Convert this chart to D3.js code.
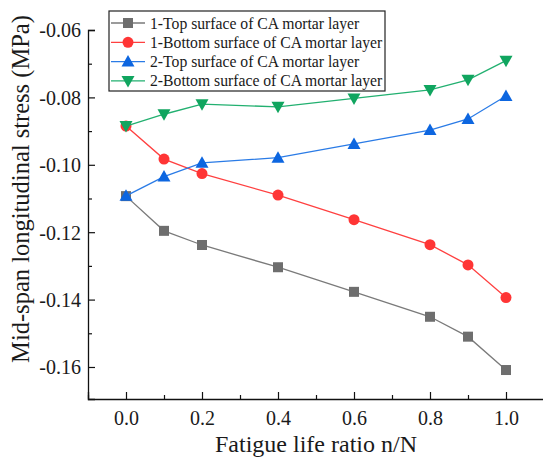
<!DOCTYPE html>
<html>
<head>
<meta charset="utf-8">
<script src="https://cdn.jsdelivr.net/npm/d3@7"></script>
<style>
  body { margin: 0; background: #fff; }
</style>
</head>
<body>
<div id="chart"></div>
<script>
// data
var ratio = [0, 0.1, 0.2, 0.4, 0.6, 0.8, 0.9, 1.0];
var top1 = [-0.1093, -0.1196, -0.1238, -0.1304, -0.1377, -0.1451, -0.1510, -0.1609];
var bottom1 = [-0.0885, -0.0983, -0.1026, -0.1090, -0.1163, -0.1237, -0.1297, -0.1394];
var top2 = [-0.1092, -0.1035, -0.0994, -0.0979, -0.0938, -0.0897, -0.0864, -0.0796];
var bottom2 = [-0.0885, -0.0850, -0.0820, -0.0828, -0.0803, -0.0778, -0.0748, -0.0691];
var seriesNames = [
  "1-Top surface of CA mortar layer",
  "1-Bottom surface of CA mortar layer",
  "2-Top surface of CA mortar layer",
  "2-Bottom surface of CA mortar layer"
];
var xTicks = [0, 0.2, 0.4, 0.6, 0.8, 1.0];
var yTicks = [-0.16, -0.14, -0.12, -0.10, -0.08, -0.06];

var FONT = "'Liberation Serif', 'Times New Roman', serif";
var svgWidth = 543;
var svgHeight = 461;
var margin = { top: 30, right: 0, bottom: 62, left: 88 };
var height = svgHeight - margin.top - margin.bottom;

var svg = d3.select("#chart")
  .append("svg")
  .attr("width", svgWidth)
  .attr("height", svgHeight)
  .style("font-family", FONT);

var chartGroup = svg.append("g")
  .attr("transform", `translate(${margin.left}, ${margin.top})`);

var x = d3.scaleLinear().domain([-0.1, 1.1]).range([0, 456]);
var y = d3.scaleLinear().domain([-0.1695, -0.06]).range([height, 0]);

// axes, ticks inside
var bottomAxis = d3.axisBottom(x).tickValues(xTicks).tickSize(-7).tickPadding(12)
  .tickFormat(d => d.toFixed(1));
var leftAxis = d3.axisLeft(y).tickValues(yTicks).tickSize(-7).tickPadding(7)
  .tickFormat(d => d.toFixed(2));

var xAxis = chartGroup.append("g")
  .attr("transform", `translate(0, ${height})`)
  .call(bottomAxis);
var yAxis = chartGroup.append("g").call(leftAxis);

// minor ticks
var xMinor = d3.range(-0.1, 1.11, 0.1).filter(v => xTicks.every(t => Math.abs(t - v) > 1e-6));
var yMinor = d3.range(-0.17, -0.059, 0.01).filter(v => y(v) <= height && yTicks.every(t => Math.abs(t - v) > 1e-6));
chartGroup.append("g").attr("transform", `translate(0, ${height})`)
  .call(d3.axisBottom(x).tickValues(xMinor).tickSize(-4).tickFormat(""))
  .select(".domain").remove();
chartGroup.append("g")
  .call(d3.axisLeft(y).tickValues(yMinor).tickSize(-4).tickFormat(""))
  .select(".domain").remove();

chartGroup.selectAll("g").attr("font-family", null);
chartGroup.selectAll(".domain").attr("stroke", "#111").attr("stroke-width", 1.3);
chartGroup.selectAll(".tick line").attr("stroke", "#111").attr("stroke-width", 1.2);
xAxis.selectAll("text").style("font-family", FONT).style("font-size", "20px").attr("fill", "#1a1a1a");
yAxis.selectAll("text").style("font-family", FONT).style("font-size", "20px").attr("fill", "#1a1a1a")
  .attr("dy", "0.34em");

// axis titles
svg.append("text")
  .attr("x", 316).attr("y", 452)
  .attr("text-anchor", "middle")
  .style("font-family", FONT)
  .style("font-size", "24px")
  .attr("fill", "#1a1a1a")
  .text("Fatigue life ratio n/N");

svg.append("text")
  .attr("transform", "translate(29, 189) rotate(-90)")
  .attr("text-anchor", "middle")
  .style("font-family", FONT)
  .style("font-size", "24.5px")
  .attr("fill", "#1a1a1a")
  .text("Mid-span longitudinal stress (MPa)");

var series = [
  { name: seriesNames[0], values: top1, line: "#7a7a7a", fill: "#6e6e6e", shape: "square" },
  { name: seriesNames[1], values: bottom1, line: "#ff4040", fill: "#ff3535", shape: "circle" },
  { name: seriesNames[2], values: top2, line: "#2a7be6", fill: "#0d66e0", shape: "up" },
  { name: seriesNames[3], values: bottom2, line: "#22b070", fill: "#10a55f", shape: "down" }
];

function drawMarker(g, shape, color) {
  if (shape === "square") {
    g.append("rect").attr("x", -5).attr("y", -5).attr("width", 10).attr("height", 10).attr("fill", color);
  } else if (shape === "circle") {
    g.append("circle").attr("r", 5.5).attr("fill", color);
  } else if (shape === "up") {
    g.append("path").attr("d", "M0,-6.5L6.5,5L-6.5,5Z").attr("fill", color);
  } else {
    g.append("path").attr("d", "M0,6.5L6.5,-5L-6.5,-5Z").attr("fill", color);
  }
}

var line = d3.line()
  .x((d, i) => x(ratio[i]))
  .y(d => y(d));

series.forEach(function(s) {
  chartGroup.append("path")
    .datum(s.values)
    .attr("d", line)
    .attr("fill", "none")
    .attr("stroke", s.line)
    .attr("stroke-width", 1.3);
  s.values.forEach(function(v, i) {
    var g = chartGroup.append("g")
      .attr("transform", `translate(${x(ratio[i])}, ${y(v)})`);
    drawMarker(g, s.shape, s.fill);
  });
});

// legend
var legend = svg.append("g").attr("transform", "translate(109, 11)");
legend.append("rect")
  .attr("width", 276).attr("height", 80)
  .attr("fill", "#fff").attr("stroke", "#222").attr("stroke-width", 1.2);
series.forEach(function(s, i) {
  var row = legend.append("g").attr("transform", `translate(0, ${12 + i * 19.3})`);
  row.append("line").attr("x1", 2).attr("x2", 36).attr("stroke", s.line).attr("stroke-width", 1.3);
  var m = row.append("g").attr("transform", "translate(19, 0)");
  drawMarker(m, s.shape, s.fill);
  row.append("text")
    .attr("x", 41).attr("y", 5.5)
    .style("font-family", FONT)
    .style("font-size", "15.7px")
    .attr("fill", "#1a1a1a")
    .text(s.name);
});
</script>
</body>
</html>
